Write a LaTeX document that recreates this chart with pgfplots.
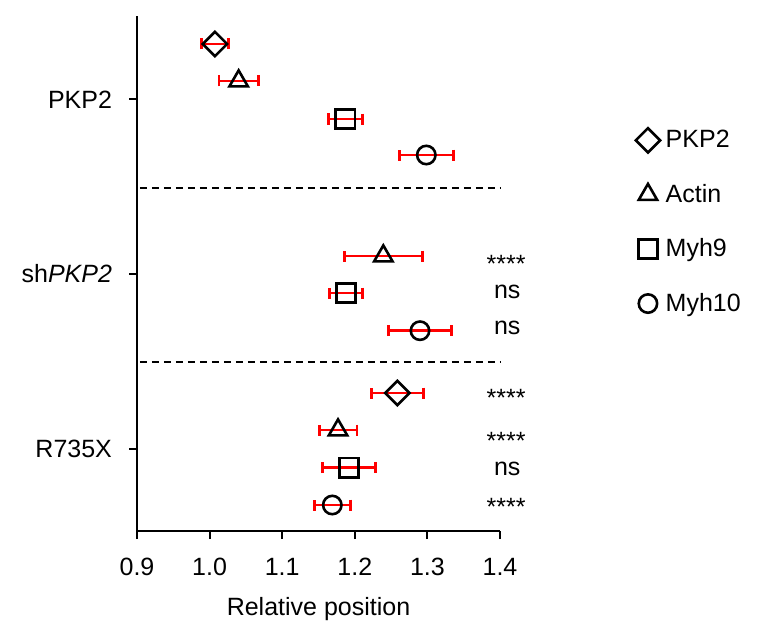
\documentclass[border=0pt]{standalone}
\usepackage{pgfplots}
\pgfplotsset{compat=1.18}
\usepackage{fontspec}
\setmainfont{Liberation Sans}
\begin{document}
\begin{tikzpicture}
\path (0pt,0pt) rectangle (381.5pt,-310.5pt);
\begin{axis}[
  at={(68.5pt,-8pt)}, anchor=north west,
  width=181.5pt, height=257.5pt, scale only axis,
  xmin=0.9, xmax=1.4, ymin=-531, ymax=-16,
  axis x line*=bottom, axis y line*=left,
  axis line style={line width=1pt, -},
  xtick={0.9,1.0,1.1,1.2,1.3,1.4},
  xticklabels={0.9,1.0,1.1,1.2,1.3,1.4},
  ytick={-448.7,-274,-99.3},
  yticklabels={R735X,sh\textit{PKP2},PKP2},
  tick align=outside, major tick length=4pt,
  tick style={line width=1pt, black},
  every tick label/.append style={font=\fontsize{12.5}{15}\selectfont},
  xticklabel style={yshift=-6pt},
  yticklabel style={xshift=-5pt},
  xlabel={Relative position},
  xlabel style={font=\fontsize{12.5}{15}\selectfont, yshift=-4pt},
  clip=false,
  legend style={draw=none, at={(rel axis cs:1.373,0.787)}, anchor=north west,
    font=\fontsize{12.5}{15}\selectfont, row sep=12.7pt, inner sep=0pt,
    nodes={inner xsep=2.8pt}},
  legend cell align=left,
  legend image code/.code={\draw[mark repeat=2,mark phase=2,#1] plot coordinates {(0cm,0cm) (0.15cm,0cm) (0.3cm,0cm)};},
  error bars/error bar style={red, line width=1.4pt},
  error bars/error mark options={rotate=90, red, mark size=2.75pt, line width=1.4pt},
]
\addplot[only marks, mark=square, mark size=4.3pt, mark options={rotate=45, line width=1.3pt, black, fill=none},
  error bars/.cd, x dir=both, x explicit]
  coordinates {(1.0074,-44) +- (0.019,0) (1.2586,-393) +- (0.036,0)};
\addlegendentry{PKP2}
\addplot[only marks, mark=triangle, mark size=5.3pt, mark options={line width=1.3pt, black, fill=none},
  error bars/.cd, x dir=both, x explicit]
  coordinates {(1.040,-81) +- (0.027,0) (1.2393,-256) +- (0.054,0) (1.1769,-430) +- (0.026,0)};
\addlegendentry{Actin}
\addplot[only marks, mark=square, mark size=4.8pt, mark options={line width=1.3pt, black, fill=none},
  error bars/.cd, x dir=both, x explicit]
  coordinates {(1.187,-119) +- (0.0234,0) (1.1879,-293) +- (0.0223,0) (1.192,-467.7) +- (0.037,0)};
\addlegendentry{Myh9}
\addplot[only marks, mark=o, mark size=4.6pt, mark options={line width=1.3pt, black, fill=none},
  error bars/.cd, x dir=both, x explicit]
  coordinates {(1.2985,-155) +- (0.037,0) (1.2898,-330.7) +- (0.0438,0) (1.169,-505) +- (0.025,0)};
\addlegendentry{Myh10}
\addplot[forget plot, line width=1.1pt, dash pattern=on 3.5pt off 2.5pt] coordinates {(0.904,-188) (1.4,-188)};
\addplot[forget plot, line width=1.1pt, dash pattern=on 3.5pt off 2.5pt] coordinates {(0.904,-362) (1.4,-362)};
\begin{scope}[every node/.style={font=\fontsize{12.5}{15}\selectfont, anchor=center, inner sep=0pt}]
\node at (axis cs:1.4085,-264) {****};
\node at (axis cs:1.4100,-292) {ns};
\node at (axis cs:1.4100,-328) {ns};
\node at (axis cs:1.4085,-398) {****};
\node at (axis cs:1.4085,-441) {****};
\node at (axis cs:1.4100,-469) {ns};
\node at (axis cs:1.4085,-507) {****};
\end{scope}
\end{axis}
\end{tikzpicture}
\end{document}
